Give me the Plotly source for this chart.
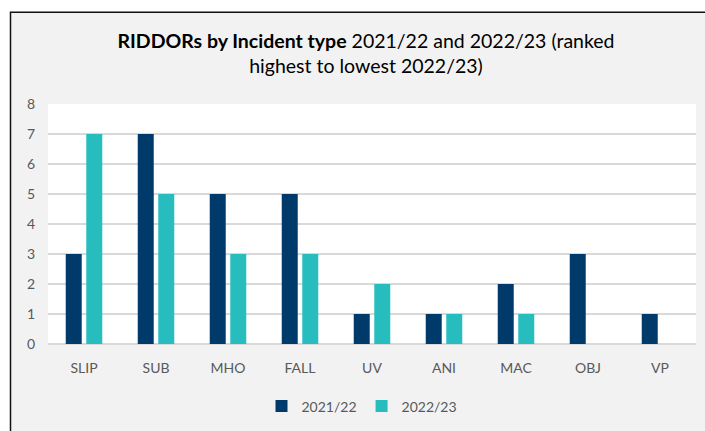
import plotly.graph_objects as go

# RIDDOR counts by incident type, ranked by 2022/23
categories = ["SLIP", "SUB", "MHO", "FALL", "UV", "ANI", "MAC", "OBJ", "VP"]
counts_2021_22 = [3, 7, 5, 5, 1, 1, 2, 3, 1]
counts_2022_23 = [7, 5, 3, 3, 2, 1, 1, 0, 0]
series_names = ["2021/22", "2022/23"]
y_ticks = [0, 1, 2, 3, 4, 5, 6, 7, 8]

NAVY = "#003a6b"
TEAL = "#27bdbf"
FONT = "Lato, 'Open Sans', sans-serif"

W, H = 705, 431
ML, MR, MT, MB = 48, 9, 104, 85
PW, PH = W - ML - MR, H - MT - MB

fig = go.Figure()
fig.add_trace(go.Bar(x=categories, y=counts_2021_22, name=series_names[0],
                     marker=dict(color=NAVY, line=dict(width=0))))
fig.add_trace(go.Bar(x=categories, y=counts_2022_23, name=series_names[1],
                     marker=dict(color=TEAL, line=dict(width=0))))

# chart frame: grey panel with a dark outline, white plot area on top
fig.add_shape(type="rect", xref="paper", yref="paper", layer="below",
              x0=(10.5 - ML) / PW, x1=1.2, y0=-1.0, y1=(MT + PH - 11.5) / PH,
              fillcolor="#f2f2f2", line=dict(color="#111111", width=1.5))
fig.add_shape(type="rect", xref="paper", yref="paper", layer="below",
              x0=0, x1=1, y0=0, y1=1, fillcolor="white", line=dict(width=0))

fig.update_layout(
    width=W, height=H,
    margin=dict(l=ML, r=MR, t=MT, b=MB),
    paper_bgcolor="white",
    plot_bgcolor="rgba(0,0,0,0)",
    font=dict(family=FONT, color="#595959", size=14),
    title=dict(
        text="<b>RIDDORs by Incident type</b> 2021/22 and 2022/23 (ranked<br>highest to lowest 2022/23)",
        x=366 / W, xanchor="center", xref="container",
        y=1 - 48 / H, yanchor="top", yref="container",
        font=dict(family=FONT, size=19.5, color="#000000"),
    ),
    barmode="group",
    bargap=0.43,
    bargroupgap=0.22,
    showlegend=True,
    legend=dict(orientation="h", x=(362 - ML) / PW, xanchor="center",
                y=(MT + PH - 409) / PH, yanchor="middle",
                font=dict(size=14, color="#595959"), bgcolor="rgba(0,0,0,0)",
                itemwidth=30, traceorder="normal"),
)
fig.update_yaxes(range=[0, 8], tickvals=y_ticks, showgrid=True,
                 gridcolor="#d9d9d9", gridwidth=1.5, zeroline=True,
                 zerolinecolor="#d9d9d9", zerolinewidth=1.5,
                 ticklabelstandoff=12, showline=False, fixedrange=True)
fig.update_xaxes(showgrid=False, showline=False, ticks="",
                 ticklabelstandoff=14, fixedrange=True)

fig.write_html("out.html")
